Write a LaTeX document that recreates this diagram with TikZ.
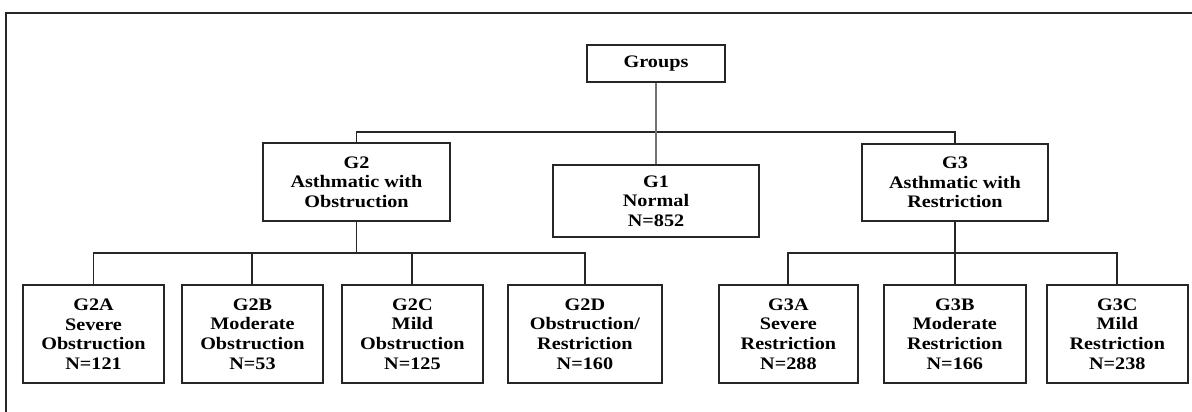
\documentclass[tikz,border=0pt]{standalone}
\usepackage{fontspec}
\setmainfont{Liberation Serif}[FakeStretch=1.15]
\usetikzlibrary{positioning}

\begin{document}
\begin{tikzpicture}[x=0.25mm, y=-0.25mm]
    \tikzstyle{group}=[draw=black!85, line width=1.4pt, align=center, inner sep=1pt,
      font=\fontsize{12.5}{13.9}\selectfont\bfseries]
    \tikzstyle{sub}=[group, minimum height=24.5mm]
    \tikzstyle{link}=[draw=black!85, line width=1.4pt]
    \tikzstyle{trunk}=[draw=black!55, line width=2pt]

    \useasboundingbox (0, 0) rectangle (1192, 412);
    \draw[link] (6, 13) rectangle (1210, 430);

    % Top level groups
    \node[group, minimum width=34.5mm, minimum height=9.25mm] (groups) at (656, 63.5) {Groups};
    \node[group, minimum width=51.5mm, minimum height=18mm] (g1) at (656, 201) {G1\\Normal\\N=852};
    \node[group, minimum width=46.75mm, minimum height=19.5mm] (g2) at (356.5, 182) {G2\\Asthmatic with\\Obstruction};
    \node[group, minimum width=46.5mm, minimum height=19.25mm] (g3) at (955, 182.5) {G3\\Asthmatic with\\Restriction};

    % Obstruction subgroups
    \node[sub, minimum width=35.25mm] (g2a) at (93.5, 334) {G2A\\Severe\\Obstruction\\N=121};
    \node[sub, minimum width=35.25mm, right=4mm of g2a] (g2b) {G2B\\Moderate\\Obstruction\\N=53};
    \node[sub, minimum width=35.25mm, right=4.25mm of g2b] (g2c) {G2C\\Mild\\Obstruction\\N=125};
    \node[sub, minimum width=38.5mm, right=5.75mm of g2c] (g2d) {G2D\\Obstruction/\\Restriction\\N=160};

    % Restriction subgroups
    \node[sub, minimum width=34.75mm, right=13.75mm of g2d] (g3a) {G3A\\Severe\\Restriction\\N=288};
    \node[sub, minimum width=35.5mm, right=6mm of g3a] (g3b) {G3B\\Moderate\\Restriction\\N=166};
    \node[sub, minimum width=35.25mm, right=4.75mm of g3b] (g3c) {G3C\\Mild\\Restriction\\N=238};

    % Connectors
    \draw[link] (g2.north) -- ++(0, -10) -| (g3.north);
    \draw[trunk] (groups) -- (g1);
    \foreach \n in {g2a, g2b, g2c, g2d}
      \draw[link] (g2.south) -- ++(0, 31) -| (\n.north);
    \foreach \n in {g3a, g3b, g3c}
      \draw[link] (g3.south) -- ++(0, 31) -| (\n.north);
\end{tikzpicture}
\end{document}
